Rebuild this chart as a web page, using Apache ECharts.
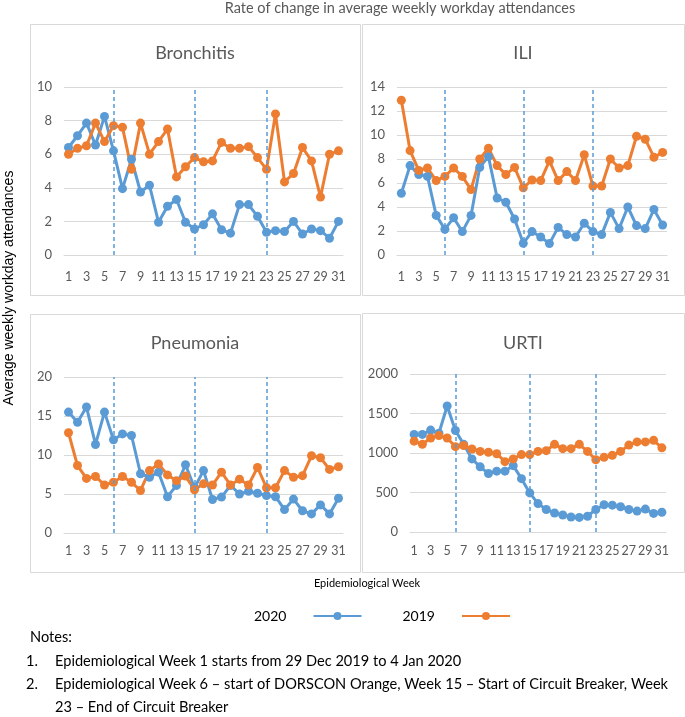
<!DOCTYPE html>
<html>
<head>
<meta charset="utf-8">
<script src="https://cdn.jsdelivr.net/npm/echarts@6/dist/echarts.min.js"></script>
<style>
  html, body { margin: 0; padding: 0; background: #fff; }
  #chart { width: 685px; height: 717px; }
</style>
</head>
<body>
<div id="chart"></div>
<script>
// Data
const weeks = ['1', '2', '3', '4', '5', '6', '7', '8', '9', '10', '11', '12', '13', '14', '15', '16',
  '17', '18', '19', '20', '21', '22', '23', '24', '25', '26', '27', '28', '29', '30', '31'];

// week markers: DORSCON Orange, start and end of Circuit Breaker
const markerWeeks = ['6', '15', '23'];

const bronchitis2020 = [6.4, 7.1, 7.85, 6.55, 8.25, 6.2, 3.95, 5.7, 3.75, 4.15, 1.95, 2.9, 3.3, 1.95, 1.55, 1.8,
  2.45, 1.5, 1.3, 3.0, 3.0, 2.3, 1.35, 1.45, 1.4, 2.0, 1.25, 1.55, 1.45, 1.0, 2.0];
const bronchitis2019 = [6.0, 6.35, 6.5, 7.85, 6.75, 7.7, 7.6, 5.1, 7.85, 6.0, 6.75, 7.5, 4.65, 5.25, 5.8, 5.55,
  5.6, 6.7, 6.35, 6.35, 6.45, 5.8, 5.1, 8.4, 4.35, 4.85, 6.4, 5.6, 3.45, 6.0, 6.2];

const ili2020 = [5.15, 7.45, 6.7, 6.55, 3.3, 2.15, 3.1, 1.95, 3.3, 7.3, 8.2, 4.75, 4.4, 3.0, 0.97, 1.95,
  1.5, 0.95, 2.3, 1.7, 1.5, 2.65, 1.95, 1.7, 3.55, 2.2, 4.0, 2.45, 2.2, 3.8, 2.5];
const ili2019 = [12.9, 8.7, 7.05, 7.25, 6.2, 6.55, 7.25, 6.55, 5.45, 8.0, 8.9, 7.45, 6.7, 7.3, 5.6, 6.25,
  6.2, 7.85, 6.2, 6.95, 6.2, 8.35, 5.75, 5.75, 8.0, 7.25, 7.45, 9.9, 9.65, 8.15, 8.55];

const pneumonia2020 = [15.5, 14.2, 16.15, 11.35, 15.5, 11.95, 12.7, 12.5, 7.6, 7.15, 7.8, 4.65, 6.1, 8.75, 5.8, 8.0,
  4.3, 4.6, 6.1, 5.0, 5.35, 5.1, 4.8, 4.65, 3.0, 4.35, 2.85, 2.45, 3.6, 2.45, 4.45];
const pneumonia2019 = [12.85, 8.65, 7.0, 7.25, 6.15, 6.5, 7.25, 6.5, 5.45, 8.0, 8.85, 7.45, 6.7, 7.3, 5.55, 6.3,
  6.15, 7.8, 6.15, 6.9, 6.15, 8.4, 5.8, 5.8, 8.0, 7.15, 7.35, 9.9, 9.65, 8.15, 8.5];

const urti2020 = [1235, 1235, 1290, 1250, 1595, 1285, 1110, 925, 825, 740, 770, 770, 840, 675, 495, 360,
  285, 240, 215, 190, 185, 200, 285, 345, 340, 320, 285, 265, 290, 235, 250];
const urti2019 = [1150, 1110, 1190, 1220, 1190, 1080, 1095, 1050, 1020, 1010, 990, 890, 925, 980, 980, 1020,
  1030, 1110, 1055, 1055, 1110, 1020, 915, 945, 970, 1020, 1100, 1140, 1140, 1160, 1065];

// Panels
const panels = [
  { name: 'Bronchitis', d2020: bronchitis2020, d2019: bronchitis2019, max: 10, interval: 2,
    grid: { left: 64, top: 87, width: 279, height: 168 }, labelMargin: 15, titleX: 195, titleY: 44 },
  { name: 'ILI', d2020: ili2020, d2019: ili2019, max: 14, interval: 2,
    grid: { left: 397, top: 87, width: 270, height: 168 }, labelMargin: 15, titleX: 523, titleY: 44 },
  { name: 'Pneumonia', d2020: pneumonia2020, d2019: pneumonia2019, max: 20, interval: 5,
    grid: { left: 64, top: 377, width: 279, height: 156 }, labelMargin: 11, titleX: 195, titleY: 334 },
  { name: 'URTI', d2020: urti2020, d2019: urti2019, max: 2000, interval: 500,
    grid: { left: 410, top: 374, width: 256, height: 158 }, labelMargin: 12, titleX: 523, titleY: 334 },
];

// Styles
const blue = '#5b9bd5';
const orange = '#ed7d31';
const textGray = '#595959';
const lineGray = '#d9d9d9';
const font = 'Lato, "Open Sans", sans-serif';

const chart = echarts.init(document.getElementById('chart'), null, { renderer: 'canvas' });

const titles = [{
  text: 'Rate of change in average weekly workday attendances',
  left: 400, top: 1, textAlign: 'center', padding: 0,
  textStyle: { color: textGray, fontSize: 14.5, fontWeight: 'normal', fontFamily: font },
}];
const grids = [];
const xAxes = [];
const yAxes = [];
const series = [];

panels.forEach((p, i) => {
  titles.push({
    text: p.name, left: p.titleX, top: p.titleY, textAlign: 'center', padding: 0,
    textStyle: { color: textGray, fontSize: 18, fontWeight: 'normal', fontFamily: font },
  });

  grids.push(p.grid);

  xAxes.push({
    type: 'category', gridIndex: i, data: weeks, boundaryGap: true,
    axisLine: { show: true, lineStyle: { color: lineGray } },
    axisTick: { show: false },
    axisLabel: { interval: 1, color: textGray, fontSize: 12.5, fontFamily: font, margin: p.labelMargin },
  });

  yAxes.push({
    type: 'value', gridIndex: i, min: 0, max: p.max, interval: p.interval,
    axisLine: { show: false }, axisTick: { show: false },
    splitLine: { lineStyle: { color: lineGray, width: 1 } },
    axisLabel: { color: textGray, fontSize: 13, fontFamily: font, margin: 12, formatter: v => String(v) },
  });

  series.push({
    name: '2020', type: 'line', xAxisIndex: i, yAxisIndex: i, data: p.d2020,
    symbol: 'circle', symbolSize: 9, showAllSymbol: true, color: blue,
    lineStyle: { width: 3, color: blue }, itemStyle: { color: blue },
    markLine: {
      silent: true, symbol: ['none', 'none'], label: { show: false },
      lineStyle: { color: blue, type: [4, 3], width: 1.5 },
      data: markerWeeks.map(w => ({ xAxis: w })),
    },
  });
  series.push({
    name: '2019', type: 'line', xAxisIndex: i, yAxisIndex: i, data: p.d2019,
    symbol: 'circle', symbolSize: 9, showAllSymbol: true, color: orange,
    lineStyle: { width: 3, color: orange }, itemStyle: { color: orange },
  });
});

// Panel borders and free text
const boxes = [
  [30, 24, 330, 271], [362, 24, 322, 271],
  [30, 314, 330, 258], [362, 313, 322, 259],
];
const noteLines = [
  { text: 'Notes:', x: 30, y: 637 },
  { text: '1.', x: 26, y: 661 },
  { text: 'Epidemiological Week 1 starts from 29 Dec 2019 to 4 Jan 2020', x: 55, y: 661 },
  { text: '2.', x: 26, y: 684 },
  { text: 'Epidemiological Week 6 – start of DORSCON Orange, Week 15 – Start of Circuit Breaker, Week', x: 55, y: 684 },
  { text: '23 – End of Circuit Breaker', x: 55, y: 707 },
];

const graphics = boxes.map(b => ({
  type: 'rect', silent: true, z: -1,
  shape: { x: b[0] + 0.5, y: b[1] + 0.5, width: b[2], height: b[3] },
  style: { fill: null, stroke: lineGray, lineWidth: 1 },
}));

graphics.push({
  type: 'text', x: 9, y: 288, rotation: Math.PI / 2,
  style: { text: 'Average weekly workday attendances', fill: '#000', font: '14px "Liberation Sans", Arial, sans-serif',
    align: 'center', verticalAlign: 'middle' },
});
graphics.push({
  type: 'text', x: 367, y: 583,
  style: { text: 'Epidemiological Week', fill: '#000', font: '11px ' + font, align: 'center', verticalAlign: 'middle' },
});
noteLines.forEach(n => {
  graphics.push({
    type: 'text', x: n.x, y: n.y,
    style: { text: n.text, fill: '#000', font: '14.6px ' + font, align: 'left', verticalAlign: 'middle' },
  });
});

const options = {
  animation: false,
  backgroundColor: '#fff',
  title: titles,
  grid: grids,
  xAxis: xAxes,
  yAxis: yAxes,
  legend: {
    data: ['2020', '2019'], left: 249, top: 604, align: 'right',
    itemWidth: 48, itemHeight: 10, itemGap: 40,
    textStyle: { color: '#000', fontSize: 14, fontFamily: font, padding: [0, 22, 0, 0] },
  },
  graphic: graphics,
  series: series,
};

chart.setOption(options);
</script>
</body>
</html>
